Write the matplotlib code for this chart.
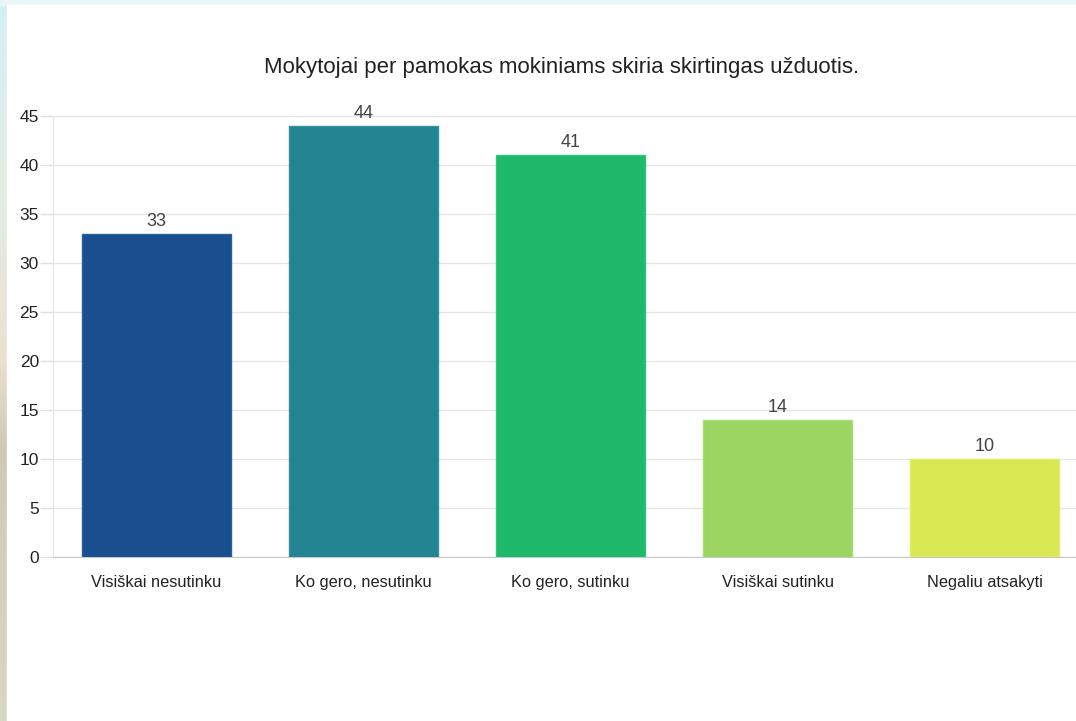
import numpy as np
import matplotlib.pyplot as plt
from matplotlib.colors import LinearSegmentedColormap

plt.rcParams['font.family'] = ['Liberation Sans', 'DejaVu Sans']

title = 'Mokytojai per pamokas mokiniams skiria skirtingas užduotis.'
categories = ['Visiškai nesutinku', 'Ko gero, nesutinku', 'Ko gero, sutinku',
              'Visiškai sutinku', 'Negaliu atsakyti']
values = [33, 44, 41, 14, 10]
y_ticks = [0, 5, 10, 15, 20, 25, 30, 35, 40, 45]

bar_colors = ['#1a4f8f', '#228391', '#1fb96b', '#9bd662', '#d8e852']
edge_colors = ['#2a5f9f', '#3493a0', '#30c77a', '#a8df70', '#e0ef60']

W, H = 1076, 721
PT = 72 / 100  # points per pixel at dpi 100
fig = plt.figure(figsize=(W / 100, H / 100), dpi=100)

# page background behind the white panel
bg = fig.add_axes([0, 0, 1, 1])
bg_cmap = LinearSegmentedColormap.from_list(
    'bg', [(0.0, '#d6eef6'), (0.25, '#e2eee6'), (0.5, '#ece0cf'),
           (0.62, '#cfc9b4'), (1.0, '#d8d9c2')])
bg.imshow(np.linspace(0, 1, 256)[:, None], aspect='auto', cmap=bg_cmap,
          extent=[0, W, H, 0])
bg.fill_between([0, W], [0, 0], [5, 5], color='#eaf6f7')
bg.fill_between([7, W], [5, 5], [H, H], color='white')
bg.set_xlim(0, W)
bg.set_ylim(H, 0)
bg.axis('off')

# main chart
left, right, top, bottom = 53, 53 + 5 * 207, 116, 557
ax = fig.add_axes([left / W, (H - bottom) / H, (right - left) / W, (bottom - top) / H])
ax.patch.set_alpha(0)
x = np.arange(len(categories))
bars = ax.bar(x, values, width=0.72, color=bar_colors, edgecolor=edge_colors,
              linewidth=1, zorder=3)
for xi, v in zip(x, values):
    ax.text(xi, v + 0.4, str(v), ha='center', va='bottom', fontsize=13,
            color='#444444', zorder=4)

ax.set_xlim(-0.5, 4.5)
ax.set_ylim(0, 45)
ax.set_yticks(y_ticks)
ax.set_xticks(x)
ax.set_xticklabels(categories)
ax.tick_params(axis='y', length=13 * PT, width=1, color='#e0e0e0', labelsize=12.5,
               labelcolor='#222222', pad=1 * PT)
ax.tick_params(axis='x', length=0, labelsize=11.8, labelcolor='#222222', pad=18 * PT)
ax.grid(axis='y', color='#e6e6e6', linewidth=1, zorder=0)
ax.set_axisbelow(True)
for s in ['top', 'right']:
    ax.spines[s].set_visible(False)
ax.spines['left'].set_color('#e6e6e6')
ax.spines['bottom'].set_color('#c8c8c8')

fig.text(562 / W, 1 - 68 / H, title, ha='center', va='center', fontsize=16,
         color='#222222')

fig.savefig('out.png', dpi=100)
